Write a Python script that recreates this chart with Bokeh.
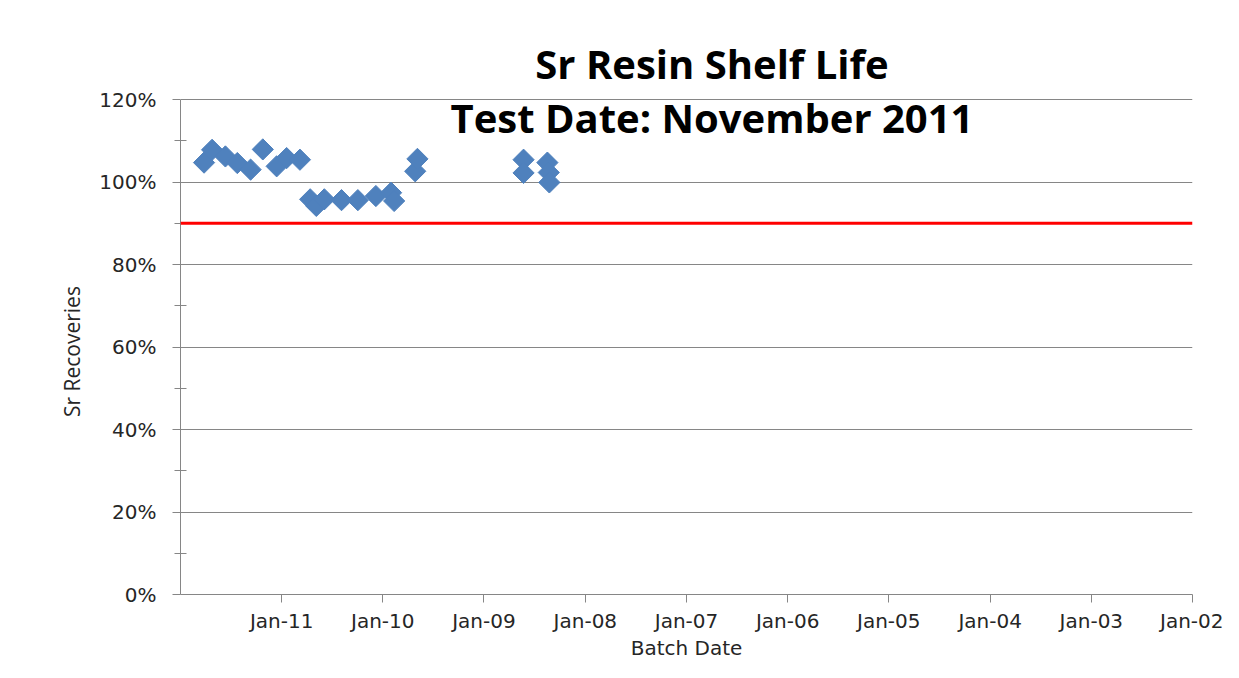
from datetime import datetime
from bokeh.plotting import figure
from bokeh.models import Range1d, FixedTicker, DatetimeTickFormatter, NumeralTickFormatter, Span, Label
from bokeh.embed import file_html
from bokeh.resources import INLINE

# Data
batch_dates = ["2011-10-08", "2011-09-09", "2011-07-23", "2011-06-10", "2011-04-23",
               "2011-03-10", "2011-01-19", "2010-12-14", "2010-10-27", "2010-09-20",
               "2010-08-29", "2010-07-31", "2010-05-30", "2010-04-01", "2010-01-26",
               "2009-12-02", "2009-11-21", "2009-09-06", "2009-08-29", "2008-08-11",
               "2008-08-11", "2008-05-17", "2008-05-12", "2008-05-10"]
recoveries = [1.047, 1.078, 1.062, 1.046, 1.030,
              1.079, 1.038, 1.058, 1.054, 0.958,
              0.942, 0.958, 0.956, 0.956, 0.966,
              0.974, 0.954, 1.026, 1.056, 1.054,
              1.022, 1.047, 1.023, 0.999]
limit = 0.90
tick_years = [2011, 2010, 2009, 2008, 2007, 2006, 2005, 2004, 2003, 2002]
y_ticks = [0, 0.2, 0.4, 0.6, 0.8, 1.0, 1.2]
y_minor = [0.1, 0.3, 0.5, 0.7, 0.9, 1.1]
title_lines = ["Sr Resin Shelf Life", "Test Date: November 2011"]
x_title = "Batch Date"
y_title = "Sr Recoveries"

xs = [datetime.strptime(d, "%Y-%m-%d") for d in batch_dates]

TICK_FONT = "DejaVu Sans"
TITLE_FONT = "Open Sans"
TOP = 10
BOTTOM = 68
HEIGHT = 662
frame_bottom = HEIGHT - BOTTOM
px_per_unit = (frame_bottom - 99) / 1.2
y_top = 1.2 + (99 - TOP) / px_per_unit

p = figure(width=1223, height=HEIGHT, output_backend="svg", toolbar_location=None,
           x_axis_type="datetime",
           x_range=Range1d(datetime(2012, 1, 1), datetime(2002, 1, 1)),
           y_range=Range1d(0, y_top),
           min_border_left=180, min_border_right=31, min_border_top=TOP, min_border_bottom=BOTTOM)
p.outline_line_color = None
p.background_fill_color = "white"
p.border_fill_color = "white"

p.scatter(xs, recoveries, marker="square", angle=0.785398, size=15,
          fill_color="#4F81BD", line_color="#4F81BD")

p.add_layout(Span(location=limit, dimension="width", line_color="#FF0000", line_width=3))

# axes
tick_ms = [datetime(y, 1, 1).timestamp() * 1000 for y in tick_years]
p.xaxis.ticker = FixedTicker(ticks=tick_ms)
fmt = "%b-%y"
p.xaxis.formatter = DatetimeTickFormatter(years=fmt, months=fmt, days=fmt, hours=fmt,
                                          minutes=fmt, seconds=fmt, milliseconds=fmt,
                                          minsec=fmt, hourmin=fmt)
p.yaxis.ticker = FixedTicker(ticks=y_ticks, minor_ticks=y_minor)
p.yaxis.formatter = NumeralTickFormatter(format="0%")
p.yaxis.bounds = (0, 1.2)

for ax in (p.xaxis, p.yaxis):
    ax.axis_line_color = "#868686"
    ax.major_tick_line_color = "#868686"
    ax.minor_tick_line_color = "#868686"
    ax.major_label_text_font = TICK_FONT
    ax.major_label_text_font_size = "20px"
    ax.major_label_text_color = "#262626"
    ax.axis_label_text_font_style = "normal"
    ax.axis_label_text_color = "#262626"
    ax.major_tick_in = 0
    ax.major_tick_out = 8
p.xaxis.minor_tick_line_color = None
p.yaxis.minor_tick_in = 6
p.yaxis.minor_tick_out = 6
p.xaxis.axis_label = x_title
p.xaxis.axis_label_text_font = TICK_FONT
p.xaxis.axis_label_text_font_size = "20px"
# trailing no-break spaces shift the rotated label down to the 0%-120% span centre
p.yaxis.axis_label = y_title + "\u00a0" * 18
p.yaxis.axis_label_text_font = "Open Sans"
p.yaxis.axis_label_text_font_size = "21px"
p.xaxis.major_label_standoff = 6
p.xaxis.axis_label_standoff = 0
p.yaxis.major_label_standoff = 16
p.yaxis.axis_label_standoff = 10

p.xgrid.grid_line_color = None
p.ygrid.grid_line_color = "#868686"
p.ygrid.ticker = FixedTicker(ticks=[0.2, 0.4, 0.6, 0.8, 1.0, 1.2])

# title (overlaps the plot area like the original)
cx = datetime(2006, 10, 1)
p.add_layout(Label(x=cx, y=(frame_bottom - 63) / px_per_unit, text=title_lines[0],
                   text_font=TITLE_FONT, text_font_style="bold",
                   text_font_size="40px", text_align="center", text_baseline="alphabetic",
                   text_color="#000000"))
p.add_layout(Label(x=cx, y=(frame_bottom - 117) / px_per_unit, text=title_lines[1],
                   text_font=TITLE_FONT, text_font_style="bold",
                   text_font_size="40px", text_align="center", text_baseline="alphabetic",
                   text_color="#000000"))

open("out.html", "w").write(file_html(p, INLINE))
